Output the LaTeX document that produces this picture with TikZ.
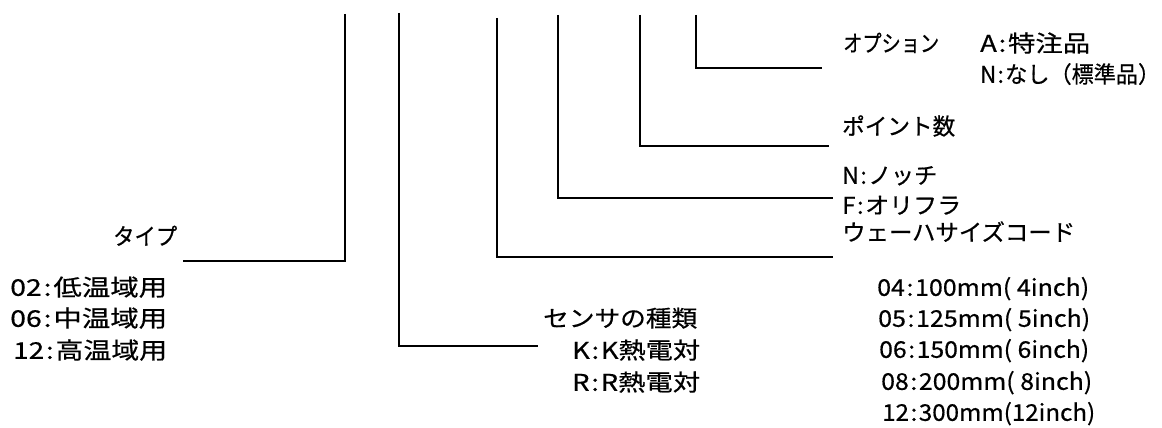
\documentclass[tikz,border=0pt]{standalone}
\usepackage{fontspec}
\setmainfont{Noto Sans CJK JP}[FakeBold=0.5]
\newcommand{\fitw}[2]{\resizebox{#1pt}{\height}{#2}}
\newcommand{\cln}{\kern1.5pt:\kern1.5pt}
\begin{document}
\begin{tikzpicture}[x=1pt,y=-1pt,
  lbl/.style={anchor=west,inner sep=0pt,font=\fontsize{23}{27}\selectfont,text height=.88em,text depth=.12em},
  conn/.style={line width=1.6pt,line join=miter}]
\useasboundingbox (0,0) rectangle (1162,428);
% labels
\node[lbl] (type) at (113,241) {\fitw{64}{タイプ}};
\node[lbl] (t02) at (10,292) {\fitw{157}{02\cln 低温域用}};
\node[lbl] (t06) at (10,323) {\fitw{157}{06\cln 中温域用}};
\node[lbl] (t12) at (13,355) {\fitw{154}{12\cln 高温域用}};
\node[lbl] (sensor) at (543,323) {\fitw{154}{センサの種類}};
\node[lbl] (sk) at (572,355) {\fitw{128}{K\cln K熱電対}};
\node[lbl] (sr) at (572,387) {\fitw{128}{R\cln R熱電対}};
\node[lbl] (s04) at (877,292) {\fitw{212}{04\cln 100mm( 4inch)}};
\node[lbl] (s05) at (878,323) {\fitw{212}{05\cln 125mm( 5inch)}};
\node[lbl] (s06) at (879,354) {\fitw{210}{06\cln 150mm( 6inch)}};
\node[lbl] (s08) at (881,386) {\fitw{211}{08\cln 200mm( 8inch)}};
\node[lbl] (s12) at (882,417) {\fitw{213}{12\cln 300mm(12inch)}};
\node[lbl] (opt) at (843,48) {\fitw{96}{オプション}};
\node[lbl] (optA) at (980,48) {\fitw{110}{A\cln 特注品}};
\node[lbl] (optN) at (980,79) {\fitw{180}{N\cln なし（標準品）}};
\node[lbl] (pts) at (842,131) {\fitw{113}{ポイント数}};
\node[lbl] (notch) at (842,180) {\fitw{95}{N\cln ノッチ}};
\node[lbl] (ofla) at (842,210) {\fitw{119}{F\cln オリフラ}};
\node[lbl] (wsize) at (842,237) {\fitw{233}{ウェーハサイズコード}};
% connector ends
\coordinate (top1) at (345,14);  \coordinate (end1) at (183,261);
\coordinate (top2) at (399,13);  \coordinate (end2) at (538,346);
\coordinate (top3) at (497,18);  \coordinate (end3) at (833,257);
\coordinate (top4) at (558,15);  \coordinate (end4) at (833,198);
\coordinate (top5) at (640,15);  \coordinate (end5) at (829,146);
\coordinate (top6) at (696,15);  \coordinate (end6) at (822,68);
\foreach \i in {1,...,6}{\draw[conn] (top\i) |- (end\i);}
\end{tikzpicture}
\end{document}
